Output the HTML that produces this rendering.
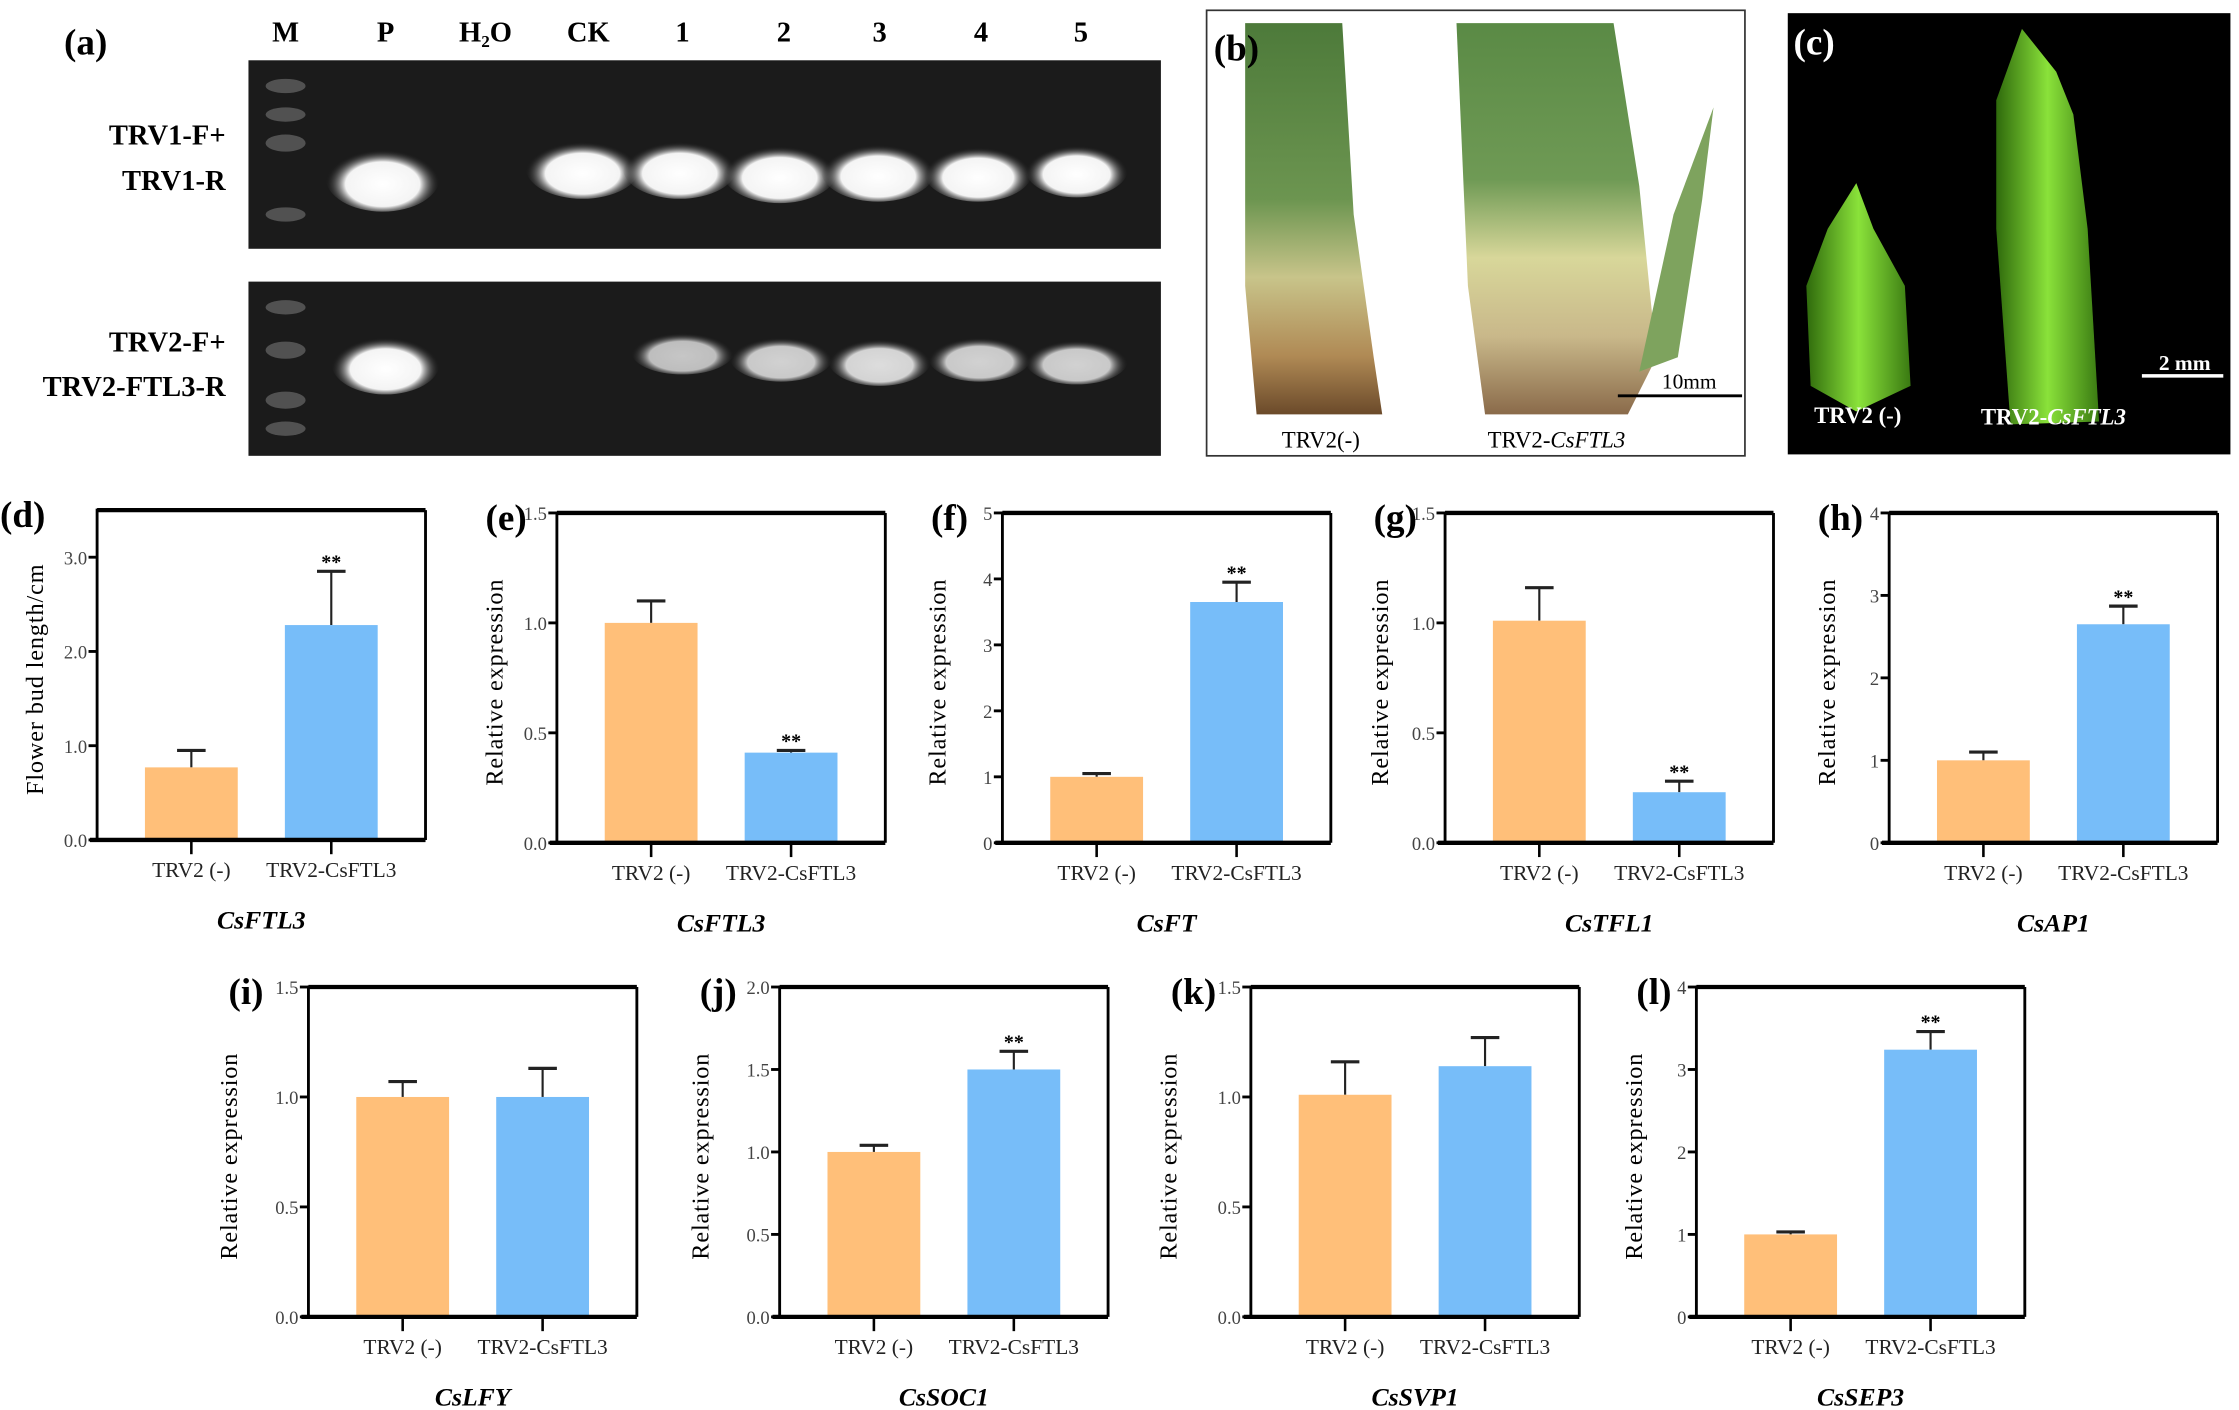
<!DOCTYPE html>
<html><head><meta charset="utf-8"><style>
html,body{margin:0;padding:0;background:#fff}
svg{display:block}
text{font-family:"Liberation Serif",serif}
</style></head><body>
<svg id="fig" width="2239" height="1410" viewBox="0 0 1568 987" xmlns="http://www.w3.org/2000/svg">
<defs>
<radialGradient id="band" cx="50%" cy="60%" r="50%"><stop offset="0" stop-color="#fff"/><stop offset="0.65" stop-color="#f4f4f4"/><stop offset="1" stop-color="#222" stop-opacity="0"/></radialGradient>
<linearGradient id="plant" x1="0" y1="0" x2="0" y2="1"><stop offset="0" stop-color="#4d7a3a"/><stop offset="0.45" stop-color="#6c9550"/><stop offset="0.65" stop-color="#c8c48a"/><stop offset="0.85" stop-color="#b08a55"/><stop offset="1" stop-color="#6b4a2a"/></linearGradient>
<linearGradient id="plant2" x1="0" y1="0" x2="0" y2="1"><stop offset="0" stop-color="#5a8a45"/><stop offset="0.4" stop-color="#6f9a55"/><stop offset="0.6" stop-color="#d8d79a"/><stop offset="0.8" stop-color="#c9b88a"/><stop offset="1" stop-color="#8a6a4a"/></linearGradient>
<linearGradient id="gfl" x1="0" y1="0" x2="1" y2="0"><stop offset="0" stop-color="#2f6a0c"/><stop offset="0.5" stop-color="#8ae23a"/><stop offset="1" stop-color="#3a7a12"/></linearGradient>
</defs>
<!-- panel a -->
<g>
<text x="60" y="38" font-size="26" font-weight="bold" text-anchor="middle">(a)</text>
<g font-size="20" font-weight="bold" text-anchor="middle">
<text x="200" y="29">M</text><text x="270" y="29">P</text><text x="340" y="29">H₂O</text><text x="412" y="29">CK</text><text x="478" y="29">1</text><text x="549" y="29">2</text><text x="616" y="29">3</text><text x="687" y="29">4</text><text x="757" y="29">5</text></g>
<g font-size="20" font-weight="bold" text-anchor="end">
<text x="158" y="101">TRV1-F+</text><text x="158" y="133">TRV1-R</text><text x="158" y="246">TRV2-F+</text><text x="158" y="277">TRV2-FTL3-R</text></g>
<rect x="174" y="42" width="639" height="132" fill="#1b1b1b"/>
<rect x="174" y="197" width="639" height="122" fill="#1b1b1b"/>
<g fill="#888" opacity="0.5">
<ellipse cx="200" cy="60" rx="14" ry="5"/><ellipse cx="200" cy="80" rx="14" ry="5"/><ellipse cx="200" cy="100" rx="14" ry="6"/><ellipse cx="200" cy="150" rx="14" ry="5"/>
<ellipse cx="200" cy="215" rx="14" ry="5"/><ellipse cx="200" cy="245" rx="14" ry="6"/><ellipse cx="200" cy="280" rx="14" ry="6"/><ellipse cx="200" cy="300" rx="14" ry="5"/></g>
<g fill="url(#band)">
<ellipse cx="268" cy="124" rx="40" ry="24"/><ellipse cx="408" cy="117" rx="40" ry="22"/><ellipse cx="476" cy="117" rx="40" ry="22"/><ellipse cx="546" cy="120" rx="40" ry="22"/><ellipse cx="615" cy="119" rx="40" ry="22"/><ellipse cx="685" cy="120" rx="38" ry="21"/><ellipse cx="754" cy="118" rx="36" ry="20"/>
<ellipse cx="270" cy="254" rx="38" ry="22"/><ellipse cx="478" cy="246" rx="36" ry="16" opacity="0.75"/><ellipse cx="547" cy="250" rx="36" ry="17" opacity="0.8"/><ellipse cx="616" cy="252" rx="36" ry="18" opacity="0.85"/><ellipse cx="686" cy="250" rx="36" ry="17" opacity="0.8"/><ellipse cx="754" cy="252" rx="36" ry="17" opacity="0.8"/></g>
</g>
<!-- panel b -->
<g>
<rect x="845" y="7" width="377" height="312" fill="#fff" stroke="#333" stroke-width="1.2"/>
<path d="M872 16 L940 16 L948 150 L962 250 L968 290 L880 290 L872 200 Z" fill="url(#plant)"/>
<path d="M1020 16 L1130 16 L1148 130 L1160 250 L1140 290 L1040 290 L1028 200 Z" fill="url(#plant2)"/>
<path d="M1148 260 L1172 150 L1200 75 L1192 140 L1175 250 Z" fill="#7ea35e"/>
<text x="850" y="42" font-size="26" font-weight="bold">(b)</text>
<line x1="1133" y1="277" x2="1220" y2="277" stroke="#000" stroke-width="2"/>
<text x="1183" y="272" font-size="15" text-anchor="middle">10mm</text>
<text x="925" y="313" font-size="16" text-anchor="middle">TRV2(-)</text>
<text x="1090" y="313" font-size="16" text-anchor="middle">TRV2-<tspan font-style="italic">CsFTL3</tspan></text>
</g>
<!-- panel c -->
<g>
<rect x="1252" y="9" width="310" height="309" fill="#000"/>
<path d="M1300 128 L1312 160 L1334 200 L1338 270 L1300 288 L1268 270 L1265 200 L1280 160 Z" fill="url(#gfl)"/>
<path d="M1416 20 L1440 50 L1452 80 L1462 160 L1470 295 L1408 297 L1398 160 L1398 70 Z" fill="url(#gfl)"/>
<text x="1256" y="38" font-size="26" font-weight="bold" fill="#fff">(c)</text>
<line x1="1500" y1="263" x2="1557" y2="263" stroke="#fff" stroke-width="2.5"/>
<text x="1530" y="259" font-size="15" font-weight="bold" fill="#fff" text-anchor="middle">2 mm</text>
<text x="1301" y="296" font-size="16" font-weight="bold" fill="#fff" text-anchor="middle">TRV2 (-)</text>
<text x="1438" y="297" font-size="16" font-weight="bold" fill="#fff" text-anchor="middle">TRV2-<tspan font-style="italic">CsFTL3</tspan></text>
</g>
<g id="charts"></g>
</svg>
<script>
// chart data
const chartIds = ['d','e','f','g','h','i','j','k','l'];
const chartTitles = ['CsFTL3','CsFTL3','CsFT','CsTFL1','CsAP1','CsLFY','CsSOC1','CsSVP1','CsSEP3'];
const yMaxes = [3.5,1.5,5,1.5,4,1.5,2.0,1.5,4];
const tickLabels = [['0.0','1.0','2.0','3.0'],['0.0','0.5','1.0','1.5'],['0','1','2','3','4','5'],['0.0','0.5','1.0','1.5'],['0','1','2','3','4'],['0.0','0.5','1.0','1.5'],['0.0','0.5','1.0','1.5','2.0'],['0.0','0.5','1.0','1.5'],['0','1','2','3','4']];
const categories = ['TRV2 (-)','TRV2-CsFTL3'];
const controlValues = [0.77,1.0,1.0,1.01,1.0,1.0,1.0,1.01,1.0];
const controlErrors = [0.95,1.1,1.05,1.16,1.1,1.07,1.04,1.16,1.03];
const treatValues = [2.28,0.41,3.65,0.23,2.65,1.0,1.5,1.14,3.24];
const treatErrors = [2.85,0.42,3.95,0.28,2.87,1.13,1.61,1.27,3.46];
const significant = [true,true,true,true,true,false,true,false,true];
const yTitles = ['Flower bud length/cm','Relative expression','Relative expression','Relative expression','Relative expression','Relative expression','Relative expression','Relative expression','Relative expression'];

// layout (not data)
const layout = [
 {x0:68,top:357,bot:588,lx:20},{x0:390,top:359,bot:590,lx:342},{x0:702,top:359,bot:590,lx:652},{x0:1012,top:359,bot:590,lx:962},{x0:1323,top:359,bot:590,lx:1275},
 {x0:216,top:691,bot:922,lx:156},{x0:546,top:691,bot:922,lx:486},{x0:876,top:691,bot:922,lx:814},{x0:1188,top:691,bot:922,lx:1140}];
const labelOff=[68,50,50,50,50,56,56,56,42];
const NS='http://www.w3.org/2000/svg';
const root=document.getElementById('charts');
function mk(tag,attrs,parent,txt){const e=document.createElementNS(NS,tag);for(const k in attrs)e.setAttribute(k,attrs[k]);if(txt!==undefined)e.textContent=txt;parent.appendChild(e);return e;}
chartIds.forEach((id,i)=>{
  const L=layout[i], W=230, x1=L.x0+W;
  const g=mk('g',{},root);
  
  
  const y=v=>L.bot-(v/yMaxes[i])*(L.bot-L.top);
  const centers=[L.x0+66,L.x0+164];
  const bw=65;
  [[controlValues[i],controlErrors[i],'#ffbf79'],[treatValues[i],treatErrors[i],'#77bdf9']].forEach((b,j)=>{
    const cx=centers[j];
    const eb=mk('line',{x1:cx,x2:cx,y1:y(b[0]),y2:y(b[1]),stroke:'#222','stroke-width':1.5},g);
    
    
    mk('line',{x1:cx-10,x2:cx+10,y1:y(b[1]),y2:y(b[1]),stroke:'#222','stroke-width':2.2},g);
    const r=mk('rect',{x:cx-bw/2,y:y(b[0]),width:bw,height:L.bot-y(b[0]),fill:b[2]},g);
    
    
    mk('line',{x1:cx,x2:cx,y1:L.bot,y2:L.bot+10,stroke:'#000','stroke-width':1.8},g);
    const xl=mk('text',{x:cx,y:L.bot+26,'font-size':15,'text-anchor':'middle',fill:'#222'},g,categories[j]);
    
    
  });
  if(significant[i]){
    const s=mk('text',{x:centers[1],y:y(treatErrors[i])-2,'font-size':14,'text-anchor':'middle','font-weight':'bold'},g,'**');
    
    
  }
  mk('line',{x1:L.x0,x2:x1,y1:L.top,y2:L.top,stroke:'#000','stroke-width':3},g);
  mk('line',{x1:x1,x2:x1,y1:L.top,y2:L.bot,stroke:'#000','stroke-width':2},g);
  const ya=mk('line',{x1:L.x0,x2:L.x0,y1:L.top-1,y2:L.bot,stroke:'#000','stroke-width':2},g);
  
  
  const xa=mk('line',{x1:L.x0-5,x2:x1,y1:L.bot,y2:L.bot,stroke:'#000','stroke-width':3},g);
  
  
  tickLabels[i].forEach(t=>{
    const ty=y(parseFloat(t));
    mk('line',{x1:L.x0-6,x2:L.x0,y1:ty,y2:ty,stroke:'#000','stroke-width':2},g);
    const tl=mk('text',{x:L.x0-7,y:ty+5,'font-size':13,'text-anchor':'end',fill:'#444'},g,t);
    
    
  });
  const yt=mk('text',{x:0,y:0,'font-size':17,'letter-spacing':'0.6','text-anchor':'middle',transform:`translate(${L.lx+10},${(L.top+L.bot)/2+3}) rotate(-90)`},g,yTitles[i]);
  
  
  const pl=mk('text',{x:L.x0-labelOff[i],y:L.top+12,'font-size':26,'font-weight':'bold'},g,'('+id+')');
  
  
  const ct=mk('text',{x:L.x0+115,y:L.bot+62,'font-size':18,'font-weight':'bold','font-style':'italic','text-anchor':'middle'},g,chartTitles[i]);
  
  
});
</script>
</body></html>
